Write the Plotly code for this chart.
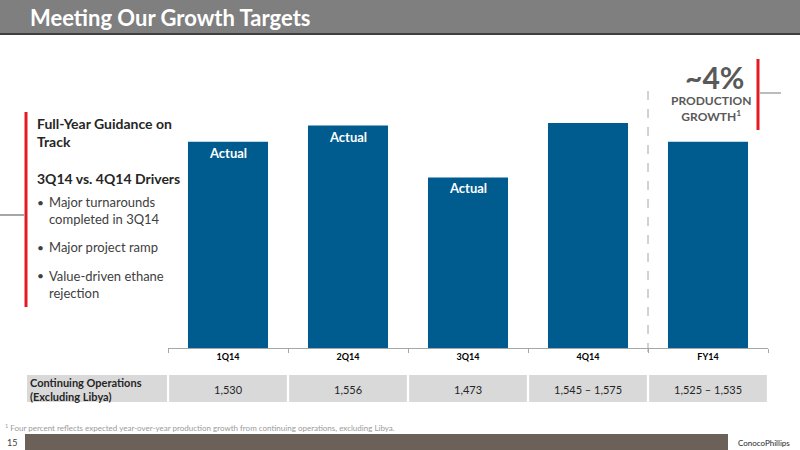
import plotly.graph_objects as go

# production, MBOED (4Q14 and FY14 plotted at guidance midpoint)
quarters = ['1Q14', '2Q14', '3Q14', '4Q14', 'FY14']
production = [1530, 1556, 1473, 1560, 1530]
bar_labels = ['Actual', 'Actual', 'Actual', '', '']
table_label = 'Continuing Operations<br>(Excluding Libya)'
table_values = ['1,530', '1,556', '1,473', '1,545 \u2013 1,575', '1,525 \u2013 1,535']

FONT = 'Lato'
W, H = 800, 450
BLUE = '#005b8e'
GRAY_TXT = '#595959'
CELL = '#d9d9d9'


def px_x(x):
    return x / W


def px_y(y):
    return 1 - y / H


fig = go.Figure()

fig.add_trace(go.Bar(
    x=quarters, y=production,
    marker=dict(color=BLUE, line=dict(width=0)),
    width=0.667,
    text=bar_labels, textposition='inside', insidetextanchor='end',
    textangle=0,
    textfont=dict(family=FONT, size=13, color='white', weight='bold'),
    hoverinfo='skip', showlegend=False,
))

# title bar
shapes = [
    dict(type='rect', xref='paper', yref='paper', x0=0, x1=1, y0=px_y(33), y1=1,
         fillcolor='#7f7f7f', line=dict(width=0), layer='below'),
    dict(type='rect', xref='paper', yref='paper', x0=0, x1=1, y0=px_y(35), y1=px_y(33),
         fillcolor='#3f3f3f', line=dict(width=0)),
    # left callout
    dict(type='line', xref='paper', yref='paper', x0=px_x(26), x1=px_x(26),
         y0=px_y(112), y1=px_y(307), line=dict(color='#e31b23', width=3)),
    dict(type='line', xref='paper', yref='paper', x0=0, x1=px_x(25),
         y0=px_y(215), y1=px_y(215), line=dict(color='#a6a6a6', width=2)),
    # right callout
    dict(type='line', xref='paper', yref='paper', x0=px_x(758), x1=px_x(758),
         y0=px_y(59), y1=px_y(130), line=dict(color='#e31b23', width=3)),
    dict(type='line', xref='paper', yref='paper', x0=px_x(759), x1=px_x(781),
         y0=px_y(93), y1=px_y(93), line=dict(color='#a6a6a6', width=1.5)),
    # quarter / full-year divider
    dict(type='line', xref='x', yref='paper', x0=3.5, x1=3.5,
         y0=px_y(352), y1=px_y(85), line=dict(color='#a6a6a6', width=1, dash='dash')),
    # table label cell
    dict(type='rect', xref='paper', yref='paper', x0=px_x(27), x1=px_x(167),
         y0=px_y(402), y1=px_y(375), fillcolor=CELL, line=dict(width=0), layer='below'),
    # footer
    dict(type='rect', xref='paper', yref='paper', x0=px_x(25), x1=px_x(728),
         y0=0, y1=px_y(434), fillcolor='#6b6158', line=dict(width=0)),
]

annotations = [
    dict(text='<b>Meeting Our Growth Targets</b>', x=px_x(28), y=px_y(17),
         font=dict(family=FONT, size=22, color='white')),
    dict(text='<b>Full-Year Guidance on<br>Track</b>', x=px_x(35), y=px_y(132),
         font=dict(family=FONT, size=14, color='#262626'), align='left'),
    dict(text='<b>3Q14 vs. 4Q14 Drivers</b>', x=px_x(35), y=px_y(178),
         font=dict(family=FONT, size=14, color='#262626')),
    dict(text='\u2022', x=px_x(35), y=px_y(202), font=dict(family=FONT, size=12, color='#404040')),
    dict(text='Major turnarounds<br>completed in 3Q14', x=px_x(47), y=px_y(210), align='left',
         font=dict(family=FONT, size=13, color='#404040')),
    dict(text='\u2022', x=px_x(35), y=px_y(247), font=dict(family=FONT, size=12, color='#404040')),
    dict(text='Major project ramp', x=px_x(47), y=px_y(247),
         font=dict(family=FONT, size=13, color='#404040')),
    dict(text='\u2022', x=px_x(35), y=px_y(275), font=dict(family=FONT, size=12, color='#404040')),
    dict(text='Value-driven ethane<br>rejection', x=px_x(47), y=px_y(284), align='left',
         font=dict(family=FONT, size=13, color='#404040')),
    dict(text='<b>~4%</b>', x=px_x(714), y=px_y(77), xanchor='center',
         font=dict(family=FONT, size=30, color=GRAY_TXT)),
    dict(text='<b>PRODUCTION<br>GROWTH<sup>1</sup></b>', x=px_x(711), y=px_y(108), xanchor='center',
         align='center', font=dict(family=FONT, size=12, color=GRAY_TXT)),
    dict(text='<b>' + table_label + '</b>', x=px_x(28), y=px_y(389), align='left',
         font=dict(family=FONT, size=11, color='#262626')),
    dict(text='<sup>1</sup> Four percent reflects expected year-over-year production growth '
              'from continuing operations, excluding Libya.',
         x=px_x(3), y=px_y(427), font=dict(family=FONT, size=8, color='#9a9a9a')),
    dict(text='15', x=px_x(5), y=px_y(442), font=dict(family=FONT, size=9, color='#404040')),
    dict(text='ConocoPhillips', x=px_x(764), y=px_y(443), xanchor='center',
         font=dict(family=FONT, size=8, color='#262626')),
]

# table value cells, placed on the category axis
gap = 0.009
for i, (q, v) in enumerate(zip(quarters, table_values)):
    shapes.append(dict(type='rect', xref='x', yref='paper', x0=i - 0.5 + gap, x1=i + 0.5 - gap,
                       y0=px_y(402), y1=px_y(375), fillcolor=CELL, line=dict(width=0),
                       layer='below'))
    annotations.append(dict(text=v, x=q, xref='x', y=px_y(389), xanchor='center',
                            font=dict(family=FONT, size=11, color='#262626')))

for a in annotations:
    a.setdefault('xref', 'paper')
    a.setdefault('yref', 'paper')
    a.setdefault('xanchor', 'left')
    a.setdefault('yanchor', 'middle')
    a['showarrow'] = False

fig.update_layout(
    width=W, height=H,
    margin=dict(l=0, r=0, t=0, b=0),
    paper_bgcolor='white', plot_bgcolor='white',
    shapes=shapes, annotations=annotations,
    xaxis=dict(domain=[px_x(168), px_x(768)], range=[-0.5, 4.5],
               showline=True, linecolor='#a6a6a6', linewidth=1,
               ticks='outside', tickson='boundaries', ticklen=4, tickcolor='#a6a6a6',
               tickfont=dict(family=FONT, size=9, color='#000000', weight='bold'),
               showgrid=False, zeroline=False, fixedrange=True),
    yaxis=dict(domain=[px_y(348), px_y(98)], range=[1200, 1600], visible=False,
               fixedrange=True),
    font=dict(family=FONT),
)

fig.write_html('out.html', config={'displayModeBar': False},
               post_script="document.body.style.margin='0';")
